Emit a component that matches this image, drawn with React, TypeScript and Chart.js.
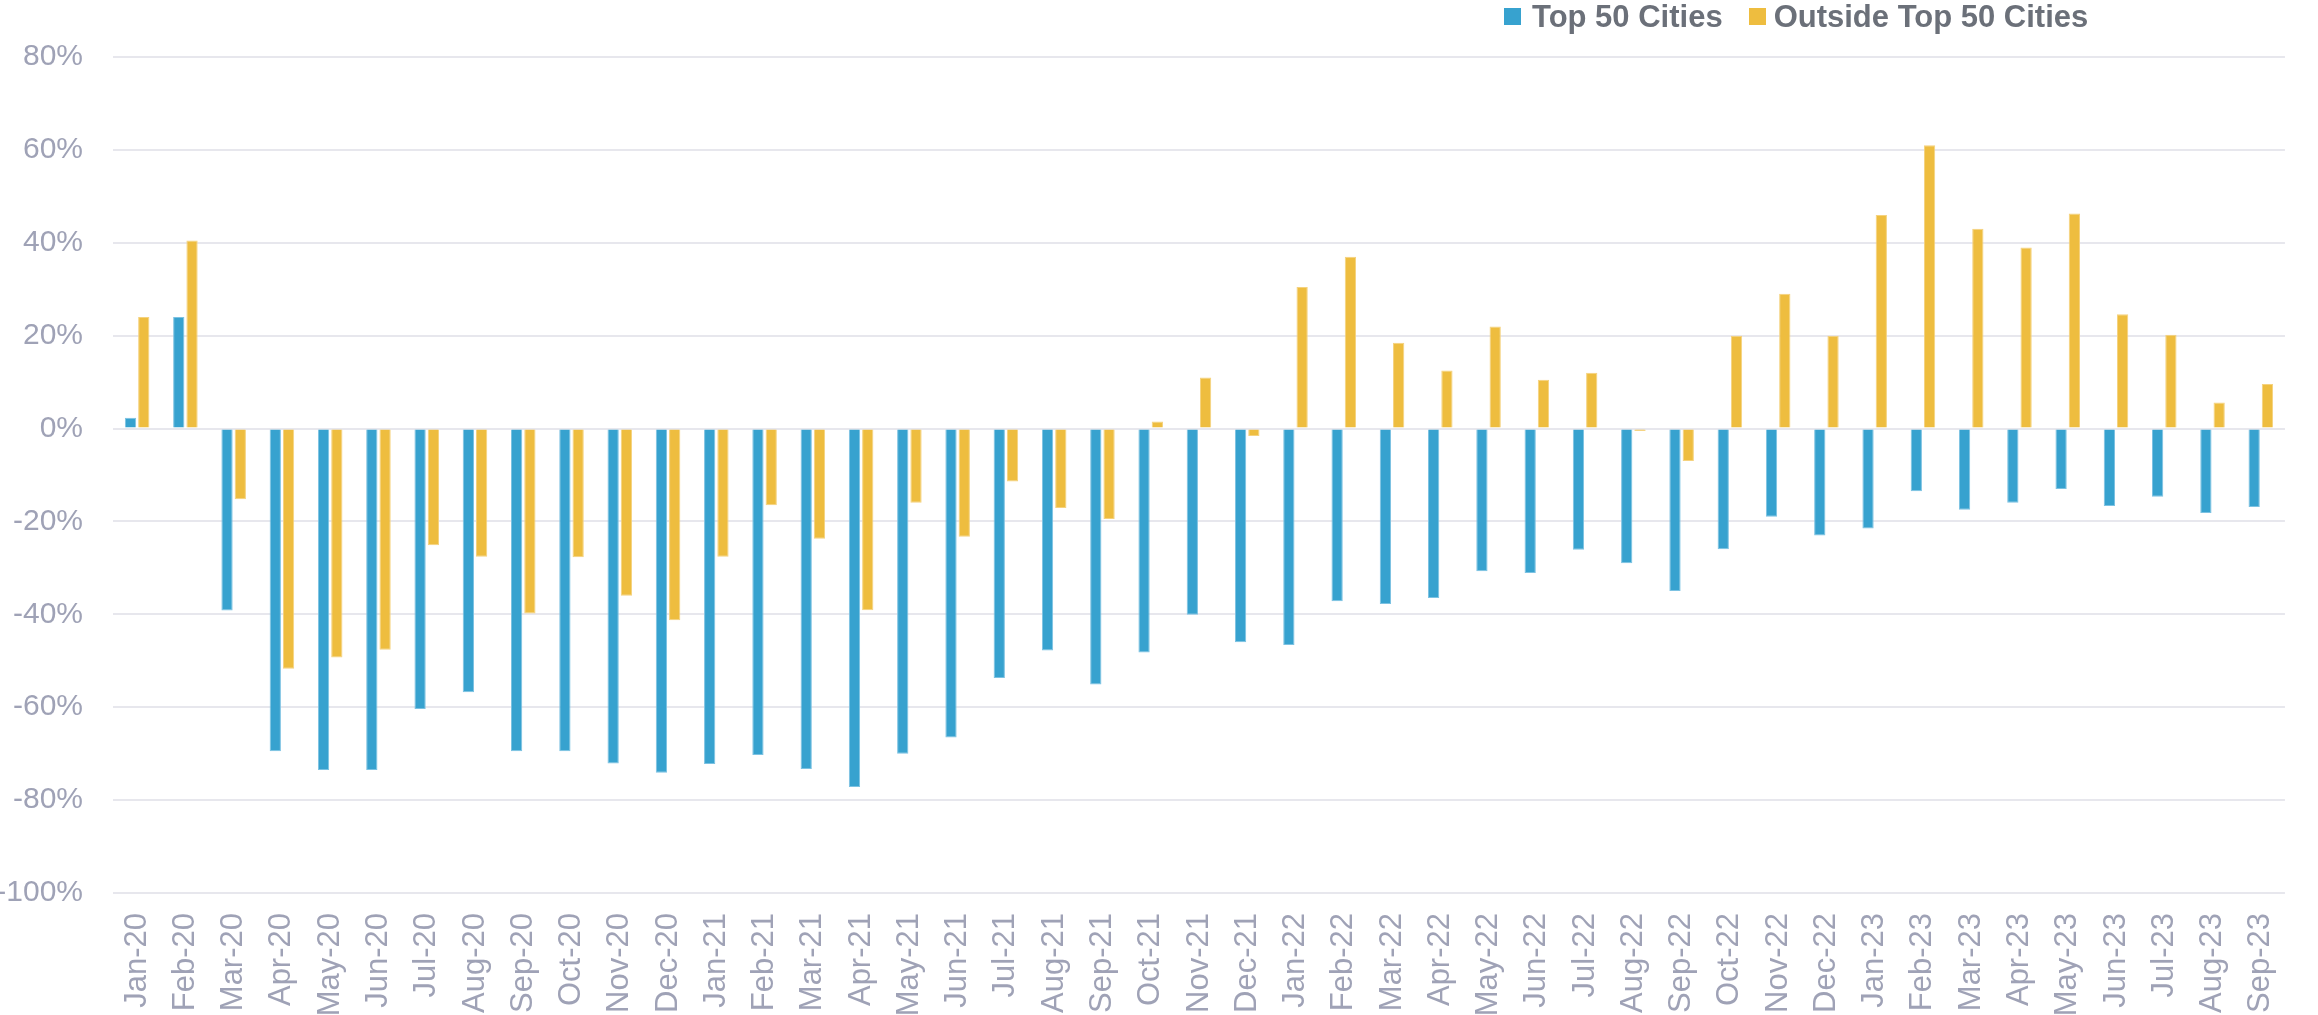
import React, { useEffect, useRef } from "react";
import { Chart, registerables } from "chart.js";

Chart.register(...registerables);

const categories = [
  "Jan-20", "Feb-20", "Mar-20", "Apr-20", "May-20", "Jun-20", "Jul-20", "Aug-20", "Sep-20", "Oct-20", "Nov-20", "Dec-20",
  "Jan-21", "Feb-21", "Mar-21", "Apr-21", "May-21", "Jun-21", "Jul-21", "Aug-21", "Sep-21", "Oct-21", "Nov-21", "Dec-21",
  "Jan-22", "Feb-22", "Mar-22", "Apr-22", "May-22", "Jun-22", "Jul-22", "Aug-22", "Sep-22", "Oct-22", "Nov-22", "Dec-22",
  "Jan-23", "Feb-23", "Mar-23", "Apr-23", "May-23", "Jun-23", "Jul-23", "Aug-23", "Sep-23",
];

const top50Cities = [
  2.3, 24, -39.2, -69.5, -73.5, -73.5, -60.4, -56.8, -69.5, -69.5, -72.1, -74.1,
  -72.2, -70.3, -73.3, -77.2, -70.0, -66.5, -53.7, -47.8, -55.1, -48.2, -40.1, -46.0,
  -46.6, -37.2, -37.8, -36.5, -30.7, -31.1, -26.1, -29, -35, -26, -19, -23,
  -21.5, -13.5, -17.5, -16, -13, -16.7, -14.7, -18.2, -16.9,
];

const outsideTop50Cities = [
  24, 40.5, -15.2, -51.7, -49.3, -47.6, -25.1, -27.6, -39.8, -27.7, -36.0, -41.3,
  -27.6, -16.5, -23.7, -39.1, -16.0, -23.3, -11.4, -17.1, -19.5, 1.5, 11, -1.6,
  30.5, 37, 18.5, 12.5, 22, 10.5, 12, -0.5, -7, 20, 29, 20,
  46, 61, 43, 39, 46.3, 24.6, 20.2, 5.6, 9.6,
];

const seriesNames = ["Top 50 Cities", "Outside Top 50 Cities"];
const seriesColors = ["#37a2cf", "#eebd3f"];
const seriesBorders = ["#7cc2e2", "#f5d27e"];

const yMin = -100;
const yMax = 80;
const yStep = 20;

const tickColor = "#9fa2b6";
const gridColor = "#e7e7ed";
const legendColor = "#6b7079";
const FONT = "'Liberation Sans', Arial, sans-serif";

export default function App() {
  const canvasRef = useRef<HTMLCanvasElement | null>(null);

  useEffect(() => {
    const canvas = canvasRef.current;
    if (!canvas) return;
    const chart = new Chart(canvas, {
      type: "bar",
      data: {
        labels: categories,
        datasets: [
          {
            label: seriesNames[0],
            data: top50Cities,
            backgroundColor: seriesColors[0],
            borderColor: seriesBorders[0],
            borderWidth: 1,
            categoryPercentage: 0.55,
            barPercentage: 0.85,
          },
          {
            label: seriesNames[1],
            data: outsideTop50Cities,
            backgroundColor: seriesColors[1],
            borderColor: seriesBorders[1],
            borderWidth: 1,
            categoryPercentage: 0.55,
            barPercentage: 0.85,
          },
        ],
      },
      options: {
        animation: false,
        responsive: false,
        maintainAspectRatio: false,
        layout: { padding: { top: 57, right: 0, left: 0, bottom: 0 } },
        plugins: {
          legend: { display: false },
          tooltip: { enabled: false },
        },
        scales: {
          x: {
            grid: { display: false, drawTicks: false },
            border: { display: false },
            ticks: {
              autoSkip: false,
              maxRotation: 90,
              minRotation: 90,
              padding: 20,
              color: tickColor,
              font: { family: FONT, size: 31 },
            },
            afterFit: (scale: any) => {
              scale.height = 122;
            },
          },
          y: {
            min: yMin,
            max: yMax,
            grid: { color: gridColor, lineWidth: 2, drawTicks: false },
            border: { display: false },
            ticks: {
              stepSize: yStep,
              padding: 30,
              color: tickColor,
              font: { family: FONT, size: 30 },
              callback: (v: any) => `${v}%`,
            },
            afterFit: (scale: any) => {
              scale.width = 113;
            },
          },
        },
      },
    });
    return () => chart.destroy();
  }, []);

  const legendText: React.CSSProperties = {
    fontFamily: FONT,
    fontWeight: "bold",
    fontSize: 31,
    lineHeight: "31px",
    color: legendColor,
    whiteSpace: "nowrap",
  };

  return (
    <div style={{ position: "fixed", left: 0, top: 0, width: 2318, height: 1015, background: "#ffffff" }}>
      <canvas ref={canvasRef} width={2318} height={1015} style={{ position: "absolute", left: 0, top: 0, width: 2318, height: 1015 }} />
      <div style={{ position: "absolute", left: 1504, top: 1, display: "flex", alignItems: "center" }}>
        <span style={{ display: "inline-block", width: 17, height: 17, background: seriesColors[0], marginRight: 11 }} />
        <span style={legendText}>{seriesNames[0]}</span>
        <span style={{ display: "inline-block", width: 17, height: 17, background: seriesColors[1], marginLeft: 26, marginRight: 8 }} />
        <span style={legendText}>{seriesNames[1]}</span>
      </div>
    </div>
  );
}
